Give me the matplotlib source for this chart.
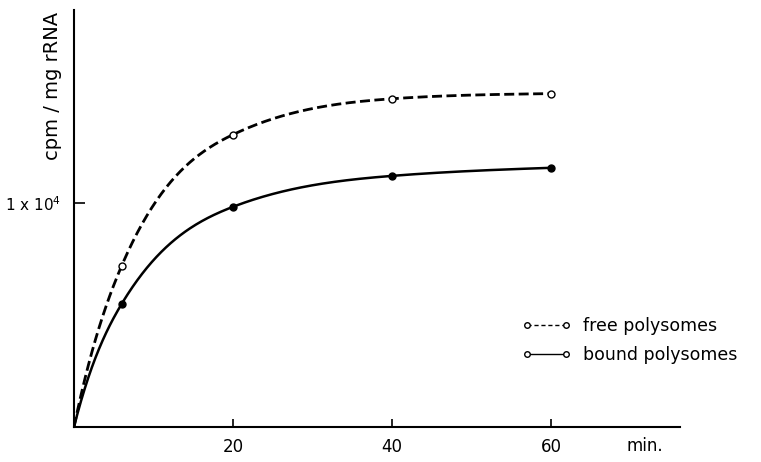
import numpy as np
import matplotlib
matplotlib.use('Agg')
import matplotlib.pyplot as plt
from matplotlib.lines import Line2D

# values (cpm / mg rRNA)
minutes = [0, 6, 20, 40, 60]
free_cpm = [0, 7190, 13040, 14640, 14870]
bound_cpm = [0, 5490, 9820, 11200, 11560]


def spline(x, y, s0, s1, n=400):
    # clamped cubic spline through the points, only used to draw a smooth line
    x = np.asarray(x, float)
    y = np.asarray(y, float)
    N = len(x)
    h = np.diff(x)
    A = np.zeros((N, N))
    b = np.zeros(N)
    A[0, 0], A[0, 1] = 2*h[0], h[0]
    b[0] = 6*((y[1]-y[0])/h[0] - s0)
    A[-1, -2], A[-1, -1] = h[-1], 2*h[-1]
    b[-1] = 6*(s1 - (y[-1]-y[-2])/h[-1])
    for k in range(1, N-1):
        A[k, k-1], A[k, k], A[k, k+1] = h[k-1], 2*(h[k-1]+h[k]), h[k]
        b[k] = 6*((y[k+1]-y[k])/h[k] - (y[k]-y[k-1])/h[k-1])
    M = np.linalg.solve(A, b)
    xs = np.linspace(x[0], x[-1], n)
    i = np.clip(np.searchsorted(x, xs) - 1, 0, N-2)
    hi = h[i]
    a = x[i+1] - xs
    c = xs - x[i]
    ys = (M[i]*a**3 + M[i+1]*c**3)/(6*hi) \
        + (y[i]/hi - M[i]*hi/6)*a + (y[i+1]/hi - M[i+1]*hi/6)*c
    return xs, ys


fig = plt.figure(figsize=(7.61, 4.62), dpi=100)
ax = fig.add_axes([0.0972, 0.0758, 0.796, 0.9026])

xs, ys = spline(minutes, free_cpm, 1700, 5)
ax.plot(xs, ys, color='black', lw=2.0, dashes=(3.6, 1.6))
xs, ys = spline(minutes, bound_cpm, 1400, 12)
ax.plot(xs, ys, color='black', lw=1.8)

ax.plot(minutes[1:], free_cpm[1:], 'o', ms=5, mfc='white', mec='black', mew=1.0)
ax.plot(minutes[1:], bound_cpm[1:], 'o', ms=5, mfc='black', mec='black')

ax.set_xlim(0, 76.2)
ax.set_ylim(0, 18600)
for s in ['top', 'right']:
    ax.spines[s].set_visible(False)
for s in ['left', 'bottom']:
    ax.spines[s].set_linewidth(1.5)

ax.set_xticks([20, 40, 60])
ax.set_xticklabels(['20', '40', '60'])
ax.set_yticks([10000])
ax.set_yticklabels(['1 x 10$^4$'])
ax.tick_params(axis='x', direction='in', length=6, width=1.2, pad=8, labelsize=12)
ax.tick_params(axis='y', direction='in', length=8, width=1.2, pad=9, labelsize=11)

ax.text(0.942, -0.046, 'min.', transform=ax.transAxes, ha='center', va='center',
        fontsize=12)
ax.text(-0.036, 0.995, 'cpm / mg rRNA', transform=ax.transAxes, rotation=90,
        ha='center', va='top', fontsize=14)

handles = [
    Line2D([], [], color='black', lw=1.0, dashes=(3, 2), marker='o', ms=4,
           mfc='white', mec='black'),
    Line2D([], [], color='black', lw=1.0, marker='o', ms=4,
           mfc='white', mec='black'),
]
ax.legend(handles, ['free polysomes', 'bound polysomes'], frameon=False,
          loc='center left', bbox_to_anchor=(0.72, 0.207), numpoints=2,
          handlelength=2.8, handletextpad=0.7, labelspacing=0.6, fontsize=12.5,
          borderpad=0.2)

fig.savefig('out.png', dpi=100)
